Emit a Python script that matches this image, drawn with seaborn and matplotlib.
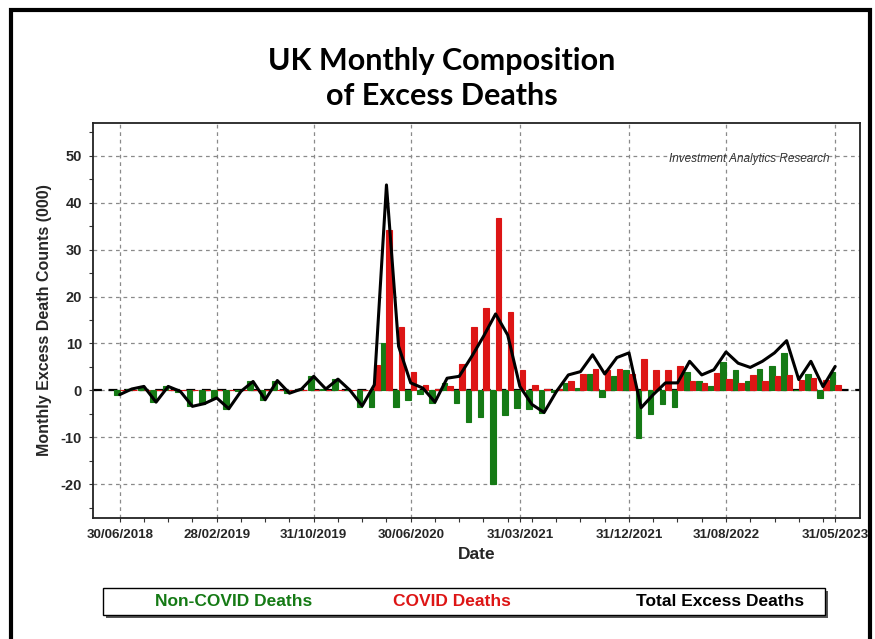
import numpy as np
import pandas as pd
import matplotlib.pyplot as plt
import seaborn as sns
from matplotlib.patches import Rectangle

# month-end dates, Jun 2018 .. May 2023
months = list(pd.date_range('2018-06-30', periods=60, freq='ME').strftime('%d/%m/%Y'))

# excess deaths (000)
non_covid = [-1.0, 0.3, 0.8, -2.5, 0.9, -0.3, -3.4, -2.8, -1.6, -3.9,
             -0.2, 1.9, -2.0, 2.1, -0.6, 0.3, 3.0, 0.3, 2.4, 0.0,
             -3.5, -3.5, 10.2, -3.5, -2.0, -0.7, -2.7, 1.6, -2.7, -6.8,
             -5.7, -20.0, -5.2, -3.7, -4.0, -4.8, -0.3, 1.6, 0.5, 3.5,
             -1.4, 3.0, 4.4, -10.1, -5.0, -3.0, -3.5, 4.0, 2.1, 1.0,
             6.0, 4.4, 2.1, 4.5, 5.1, 8.0, 0.0, 3.5, -1.6, 4.0]
covid = [0.0, 0.0, 0.0, 0.0, 0.0, 0.0, 0.0, 0.0, 0.0, 0.0,
         0.0, 0.0, 0.0, 0.0, 0.0, 0.0, 0.0, 0.0, 0.0, 0.0,
         0.0, 5.5, 34.2, 13.6, 4.0, 1.2, 0.2, 1.0, 5.6, 13.6,
         17.5, 36.7, 16.8, 4.4, 1.2, 0.2, 0.3, 1.9, 3.5, 4.5,
         4.4, 4.5, 3.6, 6.7, 4.3, 4.4, 5.3, 2.1, 1.6, 3.7,
         2.4, 1.5, 3.3, 2.1, 3.1, 3.3, 2.3, 2.7, 2.3, 1.2]
total = [-0.9, 0.3, 0.85, -2.5, 0.85, -0.2, -3.4, -2.8, -1.6, -3.9,
         -0.2, 1.9, -2.0, 2.1, -0.6, 0.3, 3.0, 0.3, 2.4, 0.0,
         -3.3, 1.2, 43.8, 9.4, 1.6, 0.5, -2.5, 2.6, 3.0, 7.1,
         11.5, 16.3, 11.8, 0.85, -3.0, -4.7, -0.3, 3.3, 4.0, 7.6,
         3.5, 7.0, 8.0, -3.7, -0.9, 1.6, 1.6, 6.2, 3.3, 4.4,
         8.2, 5.8, 4.9, 6.2, 8.0, 10.6, 2.3, 6.2, 0.8, 5.1]
tick_labels = ['30/06/2018', '28/02/2019', '31/10/2019', '30/06/2020',
               '31/03/2021', '31/12/2021', '31/08/2022', '31/05/2023']

green = '#157a15'
red = '#dd1515'

df = pd.DataFrame({'Date': months, 'Non-COVID Deaths': non_covid, 'COVID Deaths': covid})
df_long = df.melt(id_vars='Date', var_name='Type', value_name='Deaths')
df_line = pd.DataFrame({'pos': np.arange(len(months)), 'Total': total})

sns.set_style('ticks')
plt.rcParams['font.family'] = ['Liberation Sans', 'DejaVu Sans']

fig = plt.figure(figsize=(8.75, 6.39), dpi=100)
ax = fig.add_axes([93 / 875, 1 - 518 / 639, 767 / 875, 395 / 639])

ax.axhline(0, color='black', ls=(0, (4, 3)), lw=1.6, zorder=1.5)

sns.barplot(data=df_long, x='Date', y='Deaths', hue='Type', palette=[green, red],
            width=0.92, saturation=1, legend=False, ax=ax, zorder=2)
for p in ax.patches:
    p.set_edgecolor(p.get_facecolor())
    p.set_linewidth(0.8)
sns.lineplot(data=df_line, x='pos', y='Total', color='black', lw=2.2, ax=ax, zorder=3)

ax.grid(True, which='major', axis='both', color='#8a8a8a', linestyle=(0, (3, 3)), lw=0.9)
ax.set_axisbelow(True)

ax.set_xticks([months.index(t) for t in tick_labels])
ax.set_xticklabels(tick_labels, fontsize=9.6, fontweight='bold')
ax.set_xticks(range(0, 60, 2), minor=True)
ax.set_yticks(range(-20, 51, 10))
ax.set_yticks(range(-25, 56, 5), minor=True)
ax.set_yticklabels([str(v) for v in range(-20, 51, 10)], fontsize=10.5, fontweight='bold')
ax.set_xlim(-2.2, 61.05)
ax.set_ylim(-27.2, 57)
ax.tick_params(which='both', direction='out', length=3, width=0.8, color='#333333', pad=5)
for s in ax.spines.values():
    s.set_color('#222222')
    s.set_linewidth(1.3)

ax.set_xlabel('Date', fontsize=12.5, fontweight='bold', labelpad=4)
ax.set_ylabel('Monthly Excess Death Counts (000)', fontsize=11.5, fontweight='bold', labelpad=6)

ax.text(0.96, 0.91, 'Investment Analytics Research', transform=ax.transAxes,
        ha='right', va='center', fontsize=8.5, style='italic', color='#333333')

fig.text(0.505, 0.877, 'UK Monthly Composition\nof Excess Deaths', ha='center', va='center',
         fontsize=22, fontweight='bold', family='Lato', color='black', linespacing=1.3)

# outer frame
fig.add_artist(Rectangle((11 / 875, -0.1), 859 / 875, 1.1 - 10 / 639, transform=fig.transFigure,
                         fill=False, ec='black', lw=3.0))

# legend box with shadow
lx, ly, lw_, lh = 103 / 875, 1 - 615 / 639, 722 / 875, 27 / 639
fig.add_artist(Rectangle((lx + 3 / 875, ly - 3 / 639), lw_, lh, transform=fig.transFigure,
                         fc='#555555', ec='none'))
fig.add_artist(Rectangle((lx, ly), lw_, lh, transform=fig.transFigure,
                         fc='white', ec='black', lw=1.0))
for x, lab, c in [(234, 'Non-COVID Deaths', green), (452, 'COVID Deaths', red),
                  (720, 'Total Excess Deaths', 'black')]:
    fig.text(x / 875, 1 - 601 / 639, lab, ha='center', va='center', fontsize=12.5,
             fontweight='bold', color=c)

fig.savefig('out.png', dpi=100)
